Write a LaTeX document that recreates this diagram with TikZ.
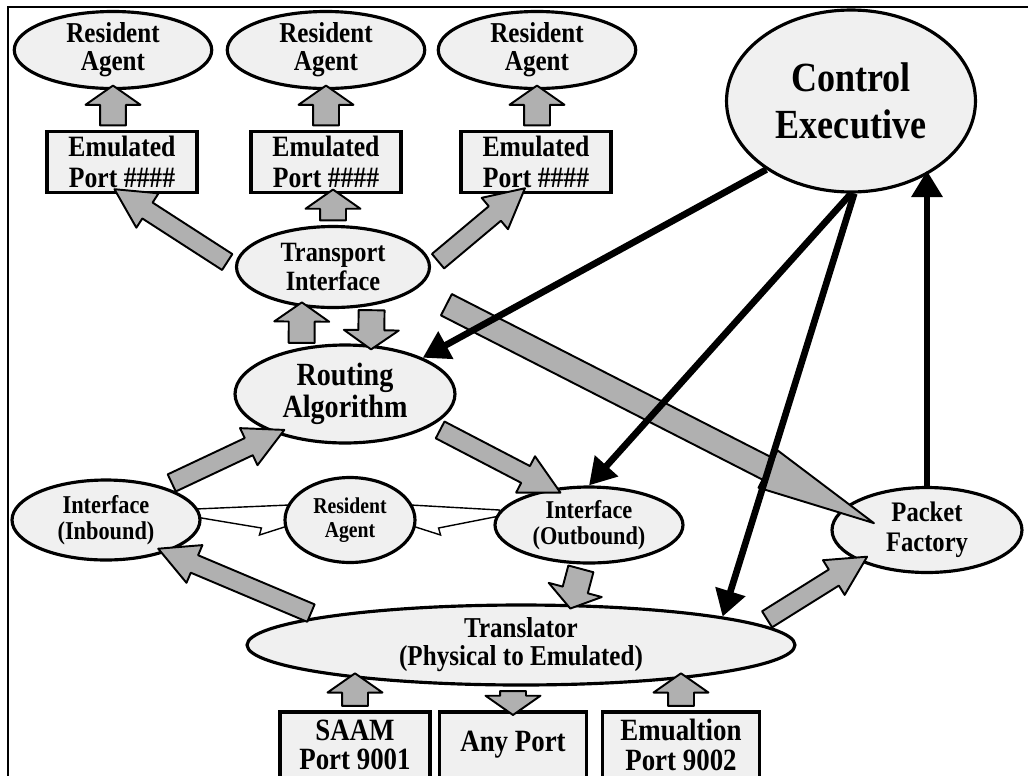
\documentclass[tikz,border=0pt]{standalone}
\usepackage{fontspec}
\setmainfont{Liberation Serif}[FakeStretch=0.87]
\usetikzlibrary{shapes.geometric,shapes.arrows,arrows.meta,calc,backgrounds}

% block arrow drawn between two points
\newcommand{\fatarrow}[3][]{%
	\path let \p1=(#2), \p2=(#3), \n1={atan2(\y2-\y1,\x2-\x1)}, \n2={veclen(\x2-\x1,\y2-\y1)} in
		node[fat, #1, minimum height=\n2, rotate=\n1] at ($(\p1)!0.5!(\p2)$) {};}

\begin{document}
\begin{tikzpicture}
		[x=0.02cm, y=-0.02cm,
		every node/.style={font=\bfseries, align=center, inner sep=0pt},
		blob/.style={ellipse, draw, line width=1.8pt, fill=gray!12},
		portbox/.style={rectangle, draw, line width=1.8pt, fill=gray!12},
		topagent/.style={blob, minimum width=3.95cm, minimum height=1.54cm, font=\fontsize{16.4}{16}\selectfont\bfseries},
		emport/.style={portbox, minimum width=3cm, minimum height=1.22cm, font=\fontsize{16.8}{17.5}\selectfont\bfseries},
		physport/.style={portbox, minimum height=1.32cm, font=\fontsize{17.6}{16.8}\selectfont\bfseries},
		iface/.style={blob, minimum width=3.76cm, font=\fontsize{14.6}{14.8}\selectfont\bfseries},
		fat/.style={single arrow, draw, line width=1.1pt, line join=round, fill=gray!62, inner xsep=0pt, inner ysep=0.24cm, text height=0pt, text depth=0pt, single arrow head extend=0.29cm, single arrow tip angle=110},
		slim/.style={inner ysep=0.17cm, single arrow head extend=0.22cm, single arrow tip angle=55},
		longhead/.style={inner ysep=0.22cm, single arrow head extend=0.18cm, single arrow tip angle=20},
		ctrl/.style={line width=3.8pt, -{Triangle[width=17pt,length=15pt]}},
		hollow/.style={draw, line width=0.8pt, fill=white}]
		\useasboundingbox (0,0) rectangle (1028,775);
		\draw[line width=1.2pt] (8,7) rectangle (1045,800);
		
		\node[topagent] (ra1) at (113,50) {Resident\\Agent};
		\node[topagent] (ra2) at (326,50) {Resident\\Agent};
		\node[topagent] (ra3) at (537,50) {Resident\\Agent};
		\node[emport] (port1) at (122,162) {Emulated\\Port \#\#\#\#};
		\node[emport] (port2) at (326,162) {Emulated\\Port \#\#\#\#};
		\node[emport] (port3) at (536,162) {Emulated\\Port \#\#\#\#};
		\node[blob, minimum width=4.98cm, minimum height=3.64cm, font=\fontsize{23.6}{26.5}\selectfont\bfseries] (ce) at (851,101) {Control\\Executive};
		\node[blob, minimum width=3.86cm, minimum height=1.62cm, font=\fontsize{15.9}{17}\selectfont\bfseries] (ti) at (333,267) {Transport\\Interface};
		\node[blob, minimum width=4.4cm, minimum height=1.96cm, font=\fontsize{18.4}{18.5}\selectfont\bfseries] (rt) at (345,394) {Routing\\Algorithm};
		\node[iface, minimum height=1.6cm] (inb) at (106,520) {Interface\\(Inbound)};
		\node[blob, minimum width=2.6cm, minimum height=1.7cm, font=\fontsize{12.9}{14}\selectfont\bfseries] (res) at (350,520) {Resident\\Agent};
		\node[iface, minimum height=1.52cm] (outb) at (589,525) {Interface\\(Outbound)};
		\node[blob, minimum width=3.8cm, minimum height=1.7cm, font=\fontsize{16.1}{17}\selectfont\bfseries] (pf) at (927,530) {Packet\\Factory};
		\node[blob, minimum width=10.96cm, minimum height=1.6cm, font=\fontsize{16.4}{15.9}\selectfont\bfseries] (tr) at (521,645) {Translator\\(Physical to Emulated)};
		\node[physport, minimum width=3cm] (saam) at (355,745) {SAAM\\Port 9001};
		\node[physport, minimum width=2.94cm] (any) at (513,745) {Any Port};
		\node[physport, minimum width=3.14cm] (emu) at (681,745) {Emualtion\\Port 9002};
		
		% white arrows into the resident agent
		\begin{scope}[on background layer]
		\draw[hollow] ($(inb.east)+(-6,-11)$) -- ($(res.west)+(6,-15)$) -- ($(res.west)+(6,7)$) -- ($(res.west)+(1,7)$) -- ($(res.west)+(-24,15)$) -- ($(res.west)+(-22,8)$) -- ($(inb.east)+(-6,-3)$) -- cycle;
		\draw[hollow] ($(outb.west)+(6,-15)$) -- ($(res.east)+(-6,-15)$) -- ($(res.east)+(-6,7)$) -- ($(res.east)+(-1,7)$) -- ($(res.east)+(24,15)$) -- ($(res.east)+(22,8)$) -- ($(outb.west)+(6,-9)$) -- cycle;
		\end{scope}
		
		\fatarrow{port1.north -| ra1.south}{ra1.south}
		\fatarrow{port2.north}{ra2.south}
		\fatarrow{port3.north -| ra3.south}{ra3.south}
		\fatarrow[slim]{ti.west}{port1.south}
		\fatarrow{ti.north}{ti.north |- port2.south}
		\fatarrow[slim]{ti.east}{$(port3.south)+(-18,0)$}
		\fatarrow{rt.133}{ti.232}
		\fatarrow{ti.-45}{rt.62}
		\fatarrow[longhead]{ti.-15}{pf.165}
		\fatarrow[slim]{inb.30}{rt.210}
		\fatarrow[slim]{rt.-20}{outb.135}
		\fatarrow[slim]{tr.172}{inb.-28}
		\fatarrow{outb.-100}{tr.39}
		\fatarrow[slim]{tr.5}{pf.205}
		\fatarrow{saam.north}{saam.north |- tr.191}
		\fatarrow{tr.south -| any.north}{any.north}
		\fatarrow{emu.north}{emu.north |- tr.-11}
		
		\path (ce.219) edge[ctrl] (rt.25);
		\path (ce.south) edge[ctrl] (outb.north);
		\path (ce.-88) edge[ctrl] (tr.8);
		\path (pf.north) edge[ctrl] (pf.north |- ce.-40);
		\end{tikzpicture}
\end{document}
